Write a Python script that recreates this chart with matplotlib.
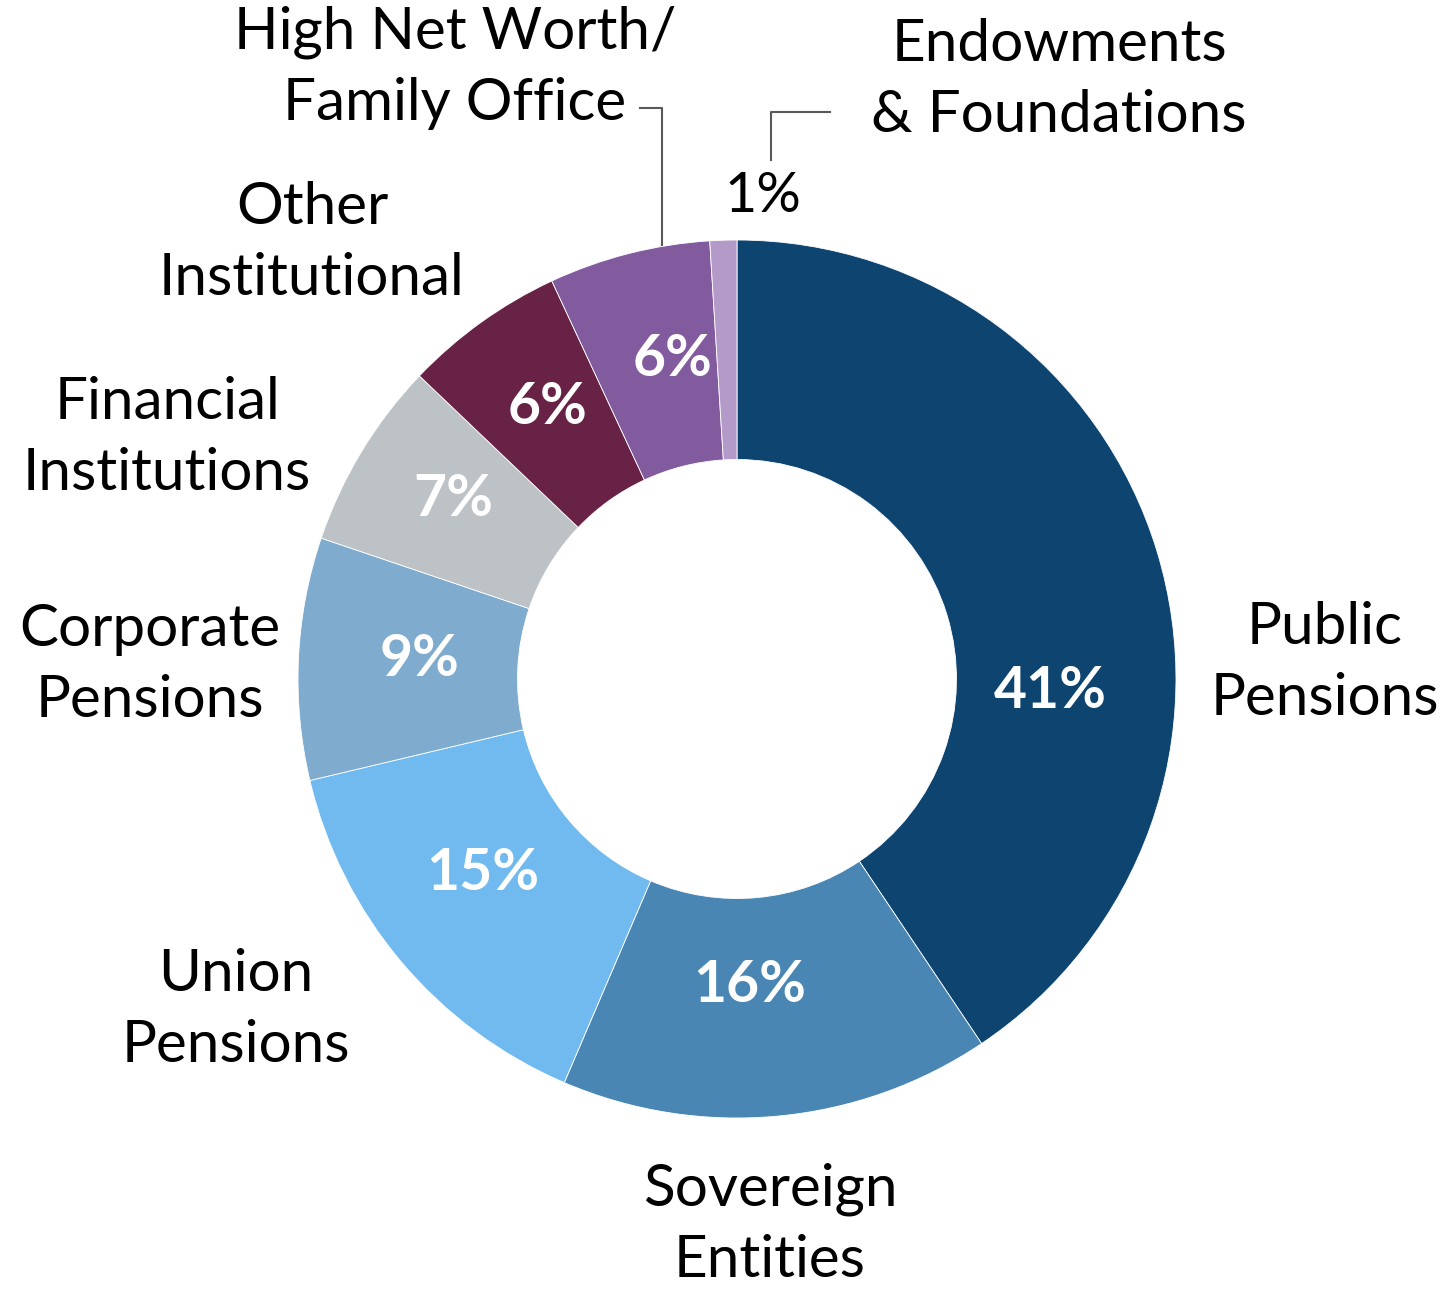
import matplotlib
matplotlib.use("Agg")
import matplotlib.pyplot as plt

# investor mix, clockwise from 12 o'clock
categories = ["Public\nPensions", "Sovereign\nEntities", "Union\nPensions",
              "Corporate\nPensions", "Financial\nInstitutions", "Other\nInstitutional",
              "High Net Worth/\nFamily Office", "Endowments\n& Foundations"]
shares = [41, 16, 15, 9, 7, 6, 6, 1]
colors = ["#0D4470", "#4A86B3", "#70BAF0", "#7EABCE",
          "#BDC2C6", "#672245", "#825A9E", "#B49AC9"]

W, H = 1444, 1289
plt.rcParams['font.family'] = ['Lato', 'DejaVu Sans']

fig = plt.figure(figsize=(W / 100, H / 100), dpi=100)
ax = fig.add_axes([0, 0, 1, 1])

cx, cy, r = 737, H - 679, 439
wedges, _ = ax.pie(shares, colors=colors, startangle=90, counterclock=False,
                   center=(cx, cy), radius=r, frame=True,
                   wedgeprops=dict(width=r * 0.5, edgecolor='white', linewidth=0.6))
ax.set_xlim(0, W)
ax.set_ylim(0, H)
ax.set_aspect('equal')
ax.axis('off')

def top(y):
    return H - y

# percentages inside the ring
inner_pos = [(1050, 692), (750, 985), (483, 873), (420, 660),
             (453, 500), (548, 408), (673, 360)]
for (x, y), v in zip(inner_pos, shares[:7]):
    ax.text(x, top(y), f"{v}%", color='white', fontsize=41, fontweight='bold',
            ha='center', va='center')
ax.text(763, top(197), f"{shares[7]}%", color='black', fontsize=40,
        ha='center', va='center')

# category names round the outside
outer_pos = [(1325, 663), (770, 1225), (236, 1010), (150, 665),
             (167, 438), (312, 243), (455, 68), (1059, 80)]
for (x, y), name in zip(outer_pos, categories):
    ax.text(x, top(y), name, color='black', fontsize=42, ha='center',
            va='center', linespacing=1.43)

# leader lines for the two thin slices
lc = '#595959'
ax.plot([662, 662, 640], [top(245), top(108), top(108)], color=lc, lw=1.5)
ax.plot([771, 771, 830], [top(160), top(112), top(112)], color=lc, lw=1.5)

fig.savefig("out.png", dpi=100)
